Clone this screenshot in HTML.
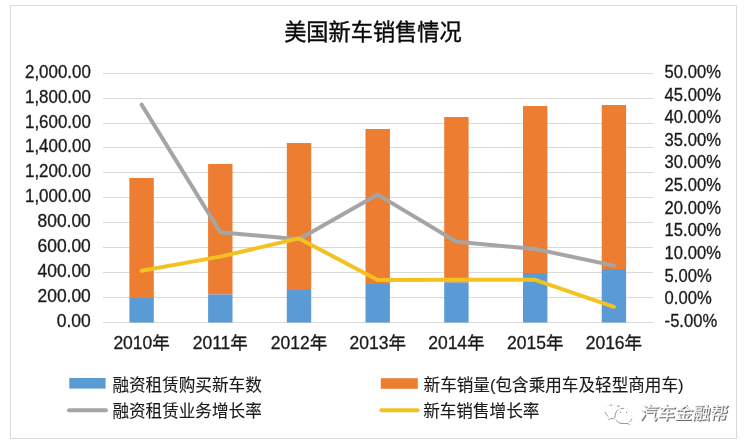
<!DOCTYPE html>
<html lang="zh"><head><meta charset="utf-8"><title>美国新车销售情况</title>
<style>
html,body{margin:0;padding:0;background:#fff;}
body{width:753px;height:446px;overflow:hidden;}
svg{display:block;}
text{font-family:"Liberation Sans", "Noto Sans CJK SC", sans-serif;fill:#1a1a1a;stroke:#1a1a1a;stroke-width:0.3px;}
.ax{font-size:17.7px;}
.yr{font-size:17.5px;}
.lg{font-size:16.6px;stroke-width:0.12px;}
.ttl{font-size:22.2px;fill:#0a0a0a;stroke:#0a0a0a;stroke-width:0.4px;}
.wm{font-size:17.5px;}
</style></head><body>
<svg width="753" height="446" viewBox="0 0 753 446">
<rect x="0" y="0" width="753" height="446" fill="#ffffff"/>
<rect x="10.5" y="5.5" width="726" height="433" fill="#ffffff" stroke="#dadada" stroke-width="1"/>
<text class="ttl" x="372.9" y="40.3" text-anchor="middle">美国新车销售情况</text>

<line x1="103" y1="73.50" x2="653" y2="73.50" stroke="#d9d9d9" stroke-width="1"/>
<line x1="103" y1="98.50" x2="653" y2="98.50" stroke="#d9d9d9" stroke-width="1"/>
<line x1="103" y1="123.50" x2="653" y2="123.50" stroke="#d9d9d9" stroke-width="1"/>
<line x1="103" y1="147.50" x2="653" y2="147.50" stroke="#d9d9d9" stroke-width="1"/>
<line x1="103" y1="172.50" x2="653" y2="172.50" stroke="#d9d9d9" stroke-width="1"/>
<line x1="103" y1="197.50" x2="653" y2="197.50" stroke="#d9d9d9" stroke-width="1"/>
<line x1="103" y1="222.50" x2="653" y2="222.50" stroke="#d9d9d9" stroke-width="1"/>
<line x1="103" y1="247.50" x2="653" y2="247.50" stroke="#d9d9d9" stroke-width="1"/>
<line x1="103" y1="272.50" x2="653" y2="272.50" stroke="#d9d9d9" stroke-width="1"/>
<line x1="103" y1="297.50" x2="653" y2="297.50" stroke="#d9d9d9" stroke-width="1"/>
<line x1="103" y1="322.50" x2="653" y2="322.50" stroke="#d9d9d9" stroke-width="1"/>
<rect x="129.4" y="178" width="24.4" height="120.00" fill="#ed7d31"/>
<rect x="129.4" y="298" width="24.4" height="24.50" fill="#5b9bd5"/>
<rect x="208.1" y="164" width="24.4" height="130.50" fill="#ed7d31"/>
<rect x="208.1" y="294.5" width="24.4" height="28.00" fill="#5b9bd5"/>
<rect x="286.8" y="143" width="24.4" height="147.00" fill="#ed7d31"/>
<rect x="286.8" y="290" width="24.4" height="32.50" fill="#5b9bd5"/>
<rect x="365.5" y="129" width="24.4" height="155.00" fill="#ed7d31"/>
<rect x="365.5" y="284" width="24.4" height="38.50" fill="#5b9bd5"/>
<rect x="444.2" y="117" width="24.4" height="165.60" fill="#ed7d31"/>
<rect x="444.2" y="282.6" width="24.4" height="39.90" fill="#5b9bd5"/>
<rect x="523.0" y="106" width="24.4" height="167.00" fill="#ed7d31"/>
<rect x="523.0" y="273" width="24.4" height="49.50" fill="#5b9bd5"/>
<rect x="601.7" y="105" width="24.4" height="164.00" fill="#ed7d31"/>
<rect x="601.7" y="269" width="24.4" height="53.50" fill="#5b9bd5"/>
<polyline points="141.6,104.6 220.3,232.3 299.0,239.3 377.7,194.6 456.4,241.7 535.2,249 613.9,265.6" fill="none" stroke="#a5a5a5" stroke-width="4" stroke-linecap="round" stroke-linejoin="round"/>
<polyline points="141.6,270.8 220.3,256.6 299.0,238.4 377.7,280 456.4,279.8 535.2,279.8 613.9,306.8" fill="none" stroke="#f4c220" stroke-width="4" stroke-linecap="round" stroke-linejoin="round"/>
<text class="ax" transform="translate(90.8 78.10) scale(0.955 1)" text-anchor="end">2,000.00</text>
<text class="ax" transform="translate(90.8 103.10) scale(0.955 1)" text-anchor="end">1,800.00</text>
<text class="ax" transform="translate(90.8 128.10) scale(0.955 1)" text-anchor="end">1,600.00</text>
<text class="ax" transform="translate(90.8 152.10) scale(0.955 1)" text-anchor="end">1,400.00</text>
<text class="ax" transform="translate(90.8 177.10) scale(0.955 1)" text-anchor="end">1,200.00</text>
<text class="ax" transform="translate(90.8 202.10) scale(0.955 1)" text-anchor="end">1,000.00</text>
<text class="ax" transform="translate(90.8 227.10) scale(0.983 1)" text-anchor="end">800.00</text>
<text class="ax" transform="translate(90.8 252.10) scale(0.983 1)" text-anchor="end">600.00</text>
<text class="ax" transform="translate(90.8 277.10) scale(0.983 1)" text-anchor="end">400.00</text>
<text class="ax" transform="translate(90.8 302.10) scale(0.983 1)" text-anchor="end">200.00</text>
<text class="ax" transform="translate(90.8 327.10) scale(0.988 1)" text-anchor="end">0.00</text>
<text class="ax" transform="translate(664.6 77.90) scale(0.938 1)">50.00%</text>
<text class="ax" transform="translate(664.6 100.54) scale(0.938 1)">45.00%</text>
<text class="ax" transform="translate(664.6 123.17) scale(0.938 1)">40.00%</text>
<text class="ax" transform="translate(664.6 145.81) scale(0.938 1)">35.00%</text>
<text class="ax" transform="translate(664.6 168.45) scale(0.938 1)">30.00%</text>
<text class="ax" transform="translate(664.6 191.08) scale(0.938 1)">25.00%</text>
<text class="ax" transform="translate(664.6 213.72) scale(0.938 1)">20.00%</text>
<text class="ax" transform="translate(664.6 236.35) scale(0.938 1)">15.00%</text>
<text class="ax" transform="translate(664.6 258.99) scale(0.938 1)">10.00%</text>
<text class="ax" transform="translate(664.6 281.63) scale(0.938 1)">5.00%</text>
<text class="ax" transform="translate(664.6 304.26) scale(0.938 1)">0.00%</text>
<text class="ax" transform="translate(664.6 326.90) scale(0.938 1)">-5.00%</text>
<text class="yr" x="141.6" y="349.3" text-anchor="middle">2010年</text>
<text class="yr" x="220.3" y="349.3" text-anchor="middle">2011年</text>
<text class="yr" x="299.0" y="349.3" text-anchor="middle">2012年</text>
<text class="yr" x="377.7" y="349.3" text-anchor="middle">2013年</text>
<text class="yr" x="456.4" y="349.3" text-anchor="middle">2014年</text>
<text class="yr" x="535.2" y="349.3" text-anchor="middle">2015年</text>
<text class="yr" x="613.9" y="349.3" text-anchor="middle">2016年</text>
<rect x="69.3" y="378" width="36.3" height="10.6" fill="#5b9bd5"/>
<text class="lg" x="112.4" y="390.5">融资租赁购买新车数</text>
<rect x="380.8" y="378.2" width="37" height="10.6" fill="#ed7d31"/>
<text class="lg" x="423.6" y="390.5">新车销量(包含乘用车及轻型商用车)</text>
<line x1="69" y1="410.2" x2="106" y2="410.2" stroke="#a5a5a5" stroke-width="4" stroke-linecap="round"/>
<text class="lg" x="112.4" y="417.2">融资租赁业务增长率</text>
<line x1="381.3" y1="410.2" x2="417.5" y2="410.2" stroke="#f4c220" stroke-width="4" stroke-linecap="round"/>
<text class="lg" x="423.2" y="417.2">新车销售增长率</text>
<g fill="none" stroke="#dcdcdc" stroke-width="0.8" stroke-dasharray="1.2 1.4"><path d="M 614.9 418.6 A 7.3 7.3 0 1 1 619.4 410"/><ellipse cx="623.6" cy="416" rx="8.4" ry="7.7"/></g>
<g fill="none" stroke="#8c8c8c" stroke-width="0.85" stroke-linecap="round"><path d="M 610.3 405.3 L 611.8 405.2"/><path d="M 617.6 406.6 L 618.5 405.2 L 619.4 406.6"/><path d="M 621 408.5 L 623.6 408.3"/><path d="M 617.6 410 Q 615.4 412.4 615.2 415.2 Q 615.3 418.2 613.4 418.8 L 610.6 418.6 L 608.6 419.7"/><path d="M 605.3 412.4 Q 606.2 414.6 608 416.3"/><path d="M 616.3 420.6 Q 618.4 423 621 423.5 L 627.9 423.5 L 629.6 424.6"/><path d="M 629.7 421.7 Q 631 420.6 631.7 419.2"/></g>
<g fill="#8c8c8c" stroke="none"><circle cx="620.6" cy="412.4" r="0.7"/><circle cx="626.7" cy="412.4" r="0.7"/></g>
<g transform="translate(639.6 419) skewX(-9)"><text class="wm" x="1" y="0.9" style="fill:#6a6a6a;stroke:#6a6a6a;stroke-width:0.4px">汽车金融帮</text><text class="wm" x="0" y="0" style="fill:#ffffff;stroke:#dedede;stroke-width:0.25px">汽车金融帮</text></g>
</svg></body></html>
